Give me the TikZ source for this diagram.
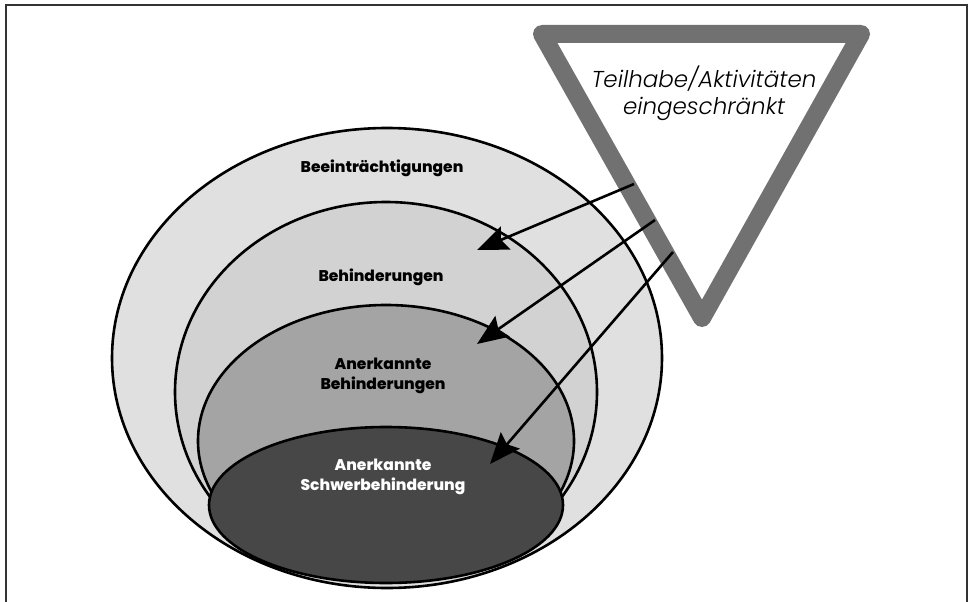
\documentclass[tikz,border=0pt]{standalone}
\usepackage{fontspec}
\newfontfamily\labfont{Poppins ExtraBold}
\newfontfamily\signfont{Poppins Light Italic}
\usetikzlibrary{arrows.meta}
\definecolor{ringA}{HTML}{E0E0E0}
\definecolor{ringB}{HTML}{D2D2D2}
\definecolor{ringC}{HTML}{A4A4A4}
\definecolor{ringD}{HTML}{474747}
\definecolor{signgray}{HTML}{717171}
\begin{document}
\begin{tikzpicture}[x=1pt,y=-1pt,
  ring/.style={draw=black,line width=2.6pt},
  lab/.style={font=\labfont\fontsize{15.5}{19.5}\selectfont,align=center},
  signtext/.style={font=\signfont\fontsize{23}{27}\selectfont,align=center},
  sign/.style={draw=signgray,line width=18pt,line join=round},
  hint/.style={line width=2.6pt,-{Stealth[length=31pt,width=25pt,inset=5pt]}}]
 \useasboundingbox (0,0) rectangle (978,602);
 % frame, open at the bottom
 \draw[line width=1.5pt,black!80] (6,602) |- (967,5) -- (967,602);
 % nested sets
 \draw[ring,fill=ringA] (387,358) ellipse [x radius=275pt,y radius=230pt];
 \draw[ring,fill=ringB] (386,392) ellipse [x radius=211pt,y radius=190pt];
 \draw[ring,fill=ringC] (386,441) ellipse [x radius=188pt,y radius=136pt];
 \draw[ring,fill=ringD] (386,505) ellipse [x radius=177pt,y radius=78pt];
 \node[lab] (beein) at (382,168) {Beeinträchtigungen};
 \node[lab] (behin) at (381,277) {Behinderungen};
 \node[lab] (anbeh) at (383,376) {Anerkannte\\Behinderungen};
 \node[lab,text=white] (schwer) at (383,477) {Anerkannte\\Schwerbehinderung};
 % sign
 \coordinate (tl) at (542,34);
 \coordinate (tr) at (861,34);
 \coordinate (tb) at (702,318);
 \draw[sign] (tl) -- (tr) -- (tb) -- cycle;
 \node[signtext] (teil) at (704,93) {Teilhabe/Aktivitäten\\eingeschränkt};
 % arrows
 \coordinate (s1) at (634,184);
 \coordinate (s2) at (655,220);
 \coordinate (s3) at (673,252);
 \coordinate (e1) at (477,250);
 \coordinate (e2) at (477,344);
 \coordinate (e3) at (490,464);
 \draw[hint] (s1) -- (e1);
 \draw[hint] (s2) -- (e2);
 \draw[hint] (s3) -- (e3);
\end{tikzpicture}
\end{document}
